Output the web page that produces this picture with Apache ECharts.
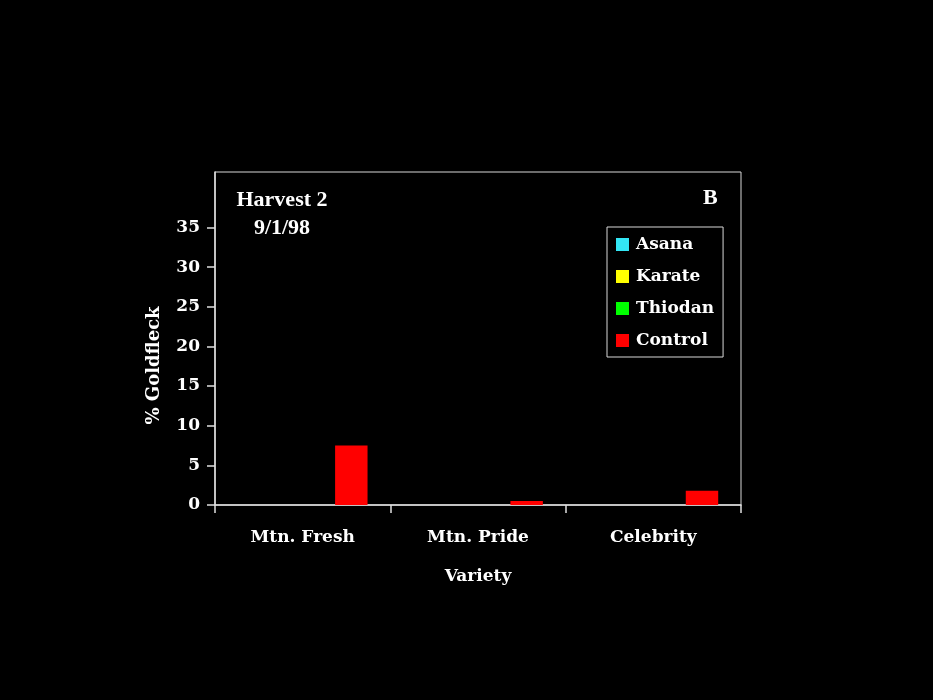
<!DOCTYPE html>
<html><head><meta charset="utf-8">
<script src="https://cdn.jsdelivr.net/npm/echarts@6/dist/echarts.min.js"></script>
<style>html,body{margin:0;padding:0;background:#000;}#c{width:933px;height:700px;}</style>
</head><body><div id="c"></div>
<script>
const categories = ['Mtn. Fresh', 'Mtn. Pride', 'Celebrity'];
const seriesNames = ['Asana', 'Karate', 'Thiodan', 'Control'];
const asana = [0, 0, 0];
const karate = [0, 0, 0];
const thiodan = [0, 0, 0];
const control = [7.5, 0.5, 1.8];
const yTicks = [0, 5, 10, 15, 20, 25, 30, 35];
const colors = ['#33e6f5', '#ffff00', '#00ff00', '#ff0000'];

const font = '"Liberation Serif", "Times New Roman", serif';
const wide = '"DejaVu Serif", serif';
const chart = echarts.init(document.getElementById('c'));
const values = [asana, karate, thiodan, control];
chart.setOption({
  backgroundColor: '#000',
  animation: false,
  title: [
    {text: 'Harvest 2\n9/1/98', left: 277, top: 181, textAlign: 'center',
     textStyle: {color: '#fff', fontFamily: font, fontWeight: 'bold', fontSize: 22, lineHeight: 28, align: 'center'}},
    {text: 'B', left: 698, top: 182,
     textStyle: {color: '#fff', fontFamily: font, fontWeight: 'bold', fontSize: 22}}
  ],
  grid: {left: 215, top: 172, right: 192, bottom: 195, show: true, borderColor: '#d8d8d8', borderWidth: 1},
  legend: {
    orient: 'vertical', left: 607, top: 227,
    data: seriesNames, icon: 'rect', itemWidth: 13, itemHeight: 13, itemGap: 15,
    borderColor: '#d8d8d8', borderWidth: 1, padding: [9, 9, 8, 9],
    textStyle: {color: '#fff', fontFamily: wide, fontWeight: 'bold', fontSize: 17, padding: [0, 0, 0, 2]}
  },
  xAxis: {
    type: 'category', data: categories,
    axisLine: {lineStyle: {color: '#e0e0e0', width: 1.5}},
    axisTick: {show: true, length: 8, lineStyle: {color: '#e0e0e0', width: 1.5}},
    axisLabel: {color: '#fff', fontFamily: wide, fontWeight: 'bold', fontSize: 17, margin: 24},
    name: 'Variety', nameLocation: 'middle', nameGap: 63,
    nameTextStyle: {color: '#fff', fontFamily: wide, fontWeight: 'bold', fontSize: 17}
  },
  yAxis: {
    type: 'value', min: 0, max: 42, interval: 5,
    splitLine: {show: false},
    axisLine: {show: true, lineStyle: {color: '#e0e0e0', width: 1.5}},
    axisTick: {show: true, length: 8, customValues: yTicks, lineStyle: {color: '#e0e0e0', width: 1.5}},
    axisLabel: {color: '#fff', fontFamily: wide, fontWeight: 'bold', fontSize: 17, margin: 15, customValues: yTicks},
    name: '% Goldfleck', nameLocation: 'middle', nameGap: 52,
    nameTextStyle: {color: '#fff', fontFamily: wide, fontWeight: 'bold', fontSize: 18, padding: [0, 54, 0, 0]}
  },
  series: seriesNames.map((n, i) => ({
    name: n, type: 'bar', data: values[i], barGap: '0%', barCategoryGap: '26%',
    itemStyle: {color: colors[i]}
  }))
});
</script></body></html>
